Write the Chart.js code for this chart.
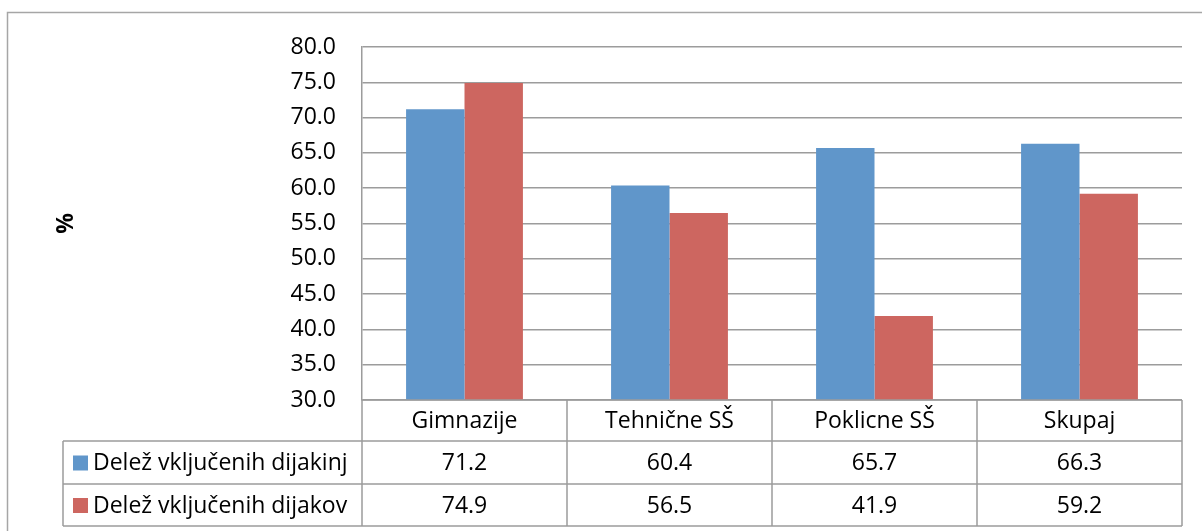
<!DOCTYPE html>
<html>
<head>
<meta charset="utf-8">
<script src="https://cdn.jsdelivr.net/npm/chart.js@4"></script>
<style>
  html, body { margin: 0; padding: 0; background: #fff; }
  #wrap { width: 1202px; height: 531px; position: relative; }
</style>
</head>
<body>
<div id="wrap"><canvas id="c" width="1202" height="531"></canvas></div>
<script>
const categories = ['Gimnazije', 'Tehnične SŠ', 'Poklicne SŠ', 'Skupaj'];
const seriesNames = ['Delež vključenih dijakinj', 'Delež vključenih dijakov'];
const girls = [71.2, 60.4, 65.7, 66.3];
const boys = [74.9, 56.5, 41.9, 59.2];
const yMin = 30, yMax = 80, yStep = 5;
const axisTitle = '%';

const FONT = '"Open Sans", "Liberation Sans", sans-serif';
const FS = 23;
const LINE = '#9c9c9c';
const colors = ['#6096CA', '#CD6660'];

const tablePlugin = {
  id: 'tablePlugin',
  afterDraw(chart) {
    const ctx = chart.ctx;
    const ca = chart.chartArea;
    const xs = chart.scales.x;
    const n = categories.length;
    const cw = (ca.right - ca.left) / n;
    const rows = [ca.bottom, ca.bottom + 41, ca.bottom + 84, ca.bottom + 126];
    const legLeft = 63;
    ctx.save();
    // outer border
    ctx.strokeStyle = '#a6a6a6';
    ctx.lineWidth = 1.5;
    ctx.beginPath();
    ctx.moveTo(7.5, 531); ctx.lineTo(7.5, 12.5); ctx.lineTo(1202, 12.5);
    ctx.stroke();
    // table lines
    ctx.strokeStyle = LINE;
    ctx.lineWidth = 1.5;
    ctx.beginPath();
    for (let i = 0; i <= n; i++) {
      const x = ca.left + i * cw;
      ctx.moveTo(x, ca.bottom); ctx.lineTo(x, rows[3]);
    }
    for (let r = 1; r <= 3; r++) {
      ctx.moveTo(legLeft, rows[r]); ctx.lineTo(ca.right, rows[r]);
    }
    ctx.moveTo(legLeft, rows[1]); ctx.lineTo(legLeft, rows[3]);
    ctx.moveTo(ca.left, ca.bottom); ctx.lineTo(ca.right, ca.bottom);
    ctx.stroke();
    // texts
    ctx.fillStyle = '#000';
    ctx.font = FS + 'px ' + FONT;
    ctx.textAlign = 'center';
    ctx.textBaseline = 'middle';
    const seriesData = [girls, boys];
    for (let i = 0; i < n; i++) {
      const cx = xs.getPixelForValue(i);
      ctx.fillText(categories[i], cx, (rows[0] + rows[1]) / 2 + 1);
      for (let s = 0; s < 2; s++) {
        ctx.fillText(seriesData[s][i].toFixed(1), cx, (rows[s + 1] + rows[s + 2]) / 2 + 1);
      }
    }
    ctx.textAlign = 'left';
    for (let s = 0; s < 2; s++) {
      const cy = (rows[s + 1] + rows[s + 2]) / 2;
      ctx.fillStyle = colors[s];
      ctx.fillRect(73, cy - 7, 15, 15);
      ctx.fillStyle = '#000';
      ctx.fillText(seriesNames[s], 93, cy + 1);
    }
    // axis title
    ctx.save();
    ctx.translate(66, (ca.top + ca.bottom) / 2);
    ctx.rotate(-Math.PI / 2);
    ctx.font = 'bold ' + FS + 'px ' + FONT;
    ctx.textAlign = 'center';
    ctx.fillText(axisTitle, 0, 0);
    ctx.restore();
    ctx.restore();
  }
};

new Chart(document.getElementById('c'), {
  type: 'bar',
  data: {
    labels: categories,
    datasets: [
      { label: seriesNames[0], data: girls, backgroundColor: colors[0], borderWidth: 0 },
      { label: seriesNames[1], data: boys, backgroundColor: colors[1], borderWidth: 0 }
    ]
  },
  options: {
    responsive: false,
    animation: false,
    events: [],
    layout: { padding: { left: 0, top: 47, right: 20, bottom: 131 } },
    plugins: { legend: { display: false }, tooltip: { enabled: false } },
    datasets: { bar: { categoryPercentage: 0.57, barPercentage: 1.0 } },
    scales: {
      x: { display: false, offset: true },
      y: {
        min: yMin, max: yMax,
        afterFit(scale) { scale.width = 362; },
        ticks: {
          stepSize: yStep,
          padding: 26,
          color: '#000',
          font: { family: FONT, size: FS },
          callback: v => Number(v).toFixed(1)
        },
        grid: { color: LINE, lineWidth: 1.5, drawTicks: false },
        border: { display: true, color: LINE, width: 1.5 }
      }
    }
  },
  plugins: [tablePlugin]
});
</script>
</body>
</html>
